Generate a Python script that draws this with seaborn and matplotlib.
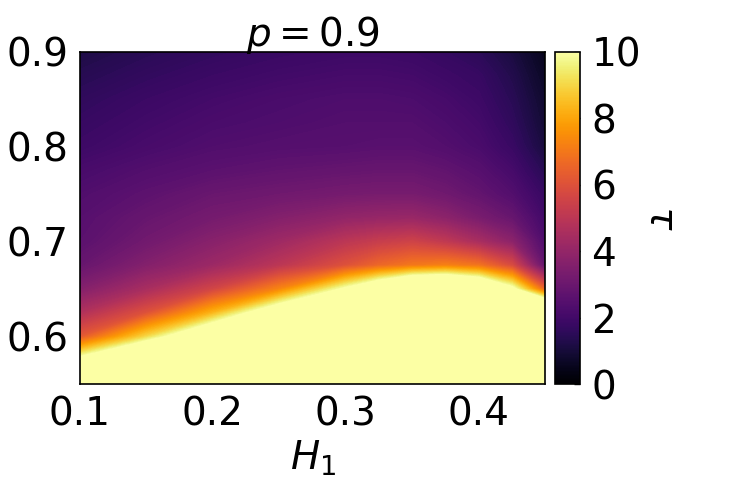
import numpy as np
import matplotlib
import seaborn as sns

matplotlib.use("Agg")
from matplotlib import pyplot as plt
from matplotlib import colors as mcolors
from matplotlib import cm

# grid of H1 (columns) and y (rows), tau
h1_values = [0.10, 0.15, 0.20, 0.25, 0.30, 0.325, 0.35, 0.375, 0.40, 0.425, 0.45]
y_values = [0.55, 0.575, 0.60, 0.625, 0.65, 0.675, 0.70, 0.725,
            0.75, 0.775, 0.80, 0.825, 0.85, 0.875, 0.90]

row_055 = [14.0, 17.0, 18.0, 18.0, 18.0, 18.5, 19.0, 19.0, 19.0, 19.0, 19.0]
row_0575 = [10.6, 14.0, 15.0, 16.0, 17.0, 17.5, 18.0, 18.0, 18.0, 18.0, 18.0]
row_060 = [6.2, 9.0, 12.2, 14.0, 15.0, 16.0, 17.0, 17.0, 17.0, 16.0, 17.0]
row_0625 = [4.7, 6.0, 8.3, 11.5, 13.0, 14.5, 16.0, 16.0, 15.0, 13.0, 15.0]
row_065 = [3.6, 4.5, 5.6, 7.3, 10.2, 11.9, 13.8, 14.2, 12.9, 10.4, 6.5]
row_0675 = [2.9, 3.6, 4.2, 5.0, 6.0, 6.6, 7.0, 7.2, 6.9, 5.8, 2.8]
row_070 = [2.6, 3.15, 3.7, 4.25, 5.0, 5.3, 5.5, 5.1, 4.5, 3.8, 2.3]
row_0725 = [2.5, 2.9, 3.25, 3.6, 3.95, 4.05, 4.1, 3.8, 3.35, 2.9, 2.0]
row_075 = [2.35, 2.65, 2.95, 3.1, 3.25, 3.3, 3.3, 3.1, 2.8, 2.4, 1.75]
row_0775 = [2.15, 2.4, 2.6, 2.75, 2.85, 2.9, 2.9, 2.75, 2.5, 2.1, 1.4]
row_080 = [1.9, 2.15, 2.35, 2.45, 2.5, 2.55, 2.55, 2.4, 2.2, 1.8, 1.05]
row_0825 = [1.75, 2.0, 2.2, 2.3, 2.4, 2.4, 2.4, 2.25, 2.05, 1.6, 0.9]
row_085 = [1.6, 1.85, 2.05, 2.2, 2.3, 2.3, 2.25, 2.1, 1.9, 1.45, 0.8]
row_0875 = [1.4, 1.65, 1.85, 2.0, 2.1, 2.1, 2.05, 1.9, 1.75, 1.3, 0.65]
row_090 = [1.2, 1.45, 1.65, 1.8, 1.9, 1.9, 1.85, 1.7, 1.5, 1.1, 0.5]

tau_rows = [row_055, row_0575, row_060, row_0625, row_065, row_0675, row_070,
            row_0725, row_075, row_0775, row_080, row_0825, row_085, row_0875, row_090]

x_ticks = [0.1, 0.2, 0.3, 0.4]
y_ticks = [0.6, 0.7, 0.8, 0.9]
cbar_ticks = [0, 2, 4, 6, 8, 10]

sns.set_theme(style="white")
plt.rcParams["font.family"] = ["DejaVu Sans"]
plt.rcParams["mathtext.fontset"] = "dejavusans"
for key in ["text.color", "axes.labelcolor", "xtick.color", "ytick.color"]:
    plt.rcParams[key] = "black"

cmap = sns.color_palette("inferno", as_cmap=True)
norm = mcolors.Normalize(vmin=0, vmax=10)

fig = plt.figure(figsize=(7.47, 4.93), dpi=100)
ax = fig.add_axes([0.107, 0.221, 0.623, 0.674])
cax = fig.add_axes([0.743, 0.221, 0.034, 0.674])

tau = np.array(tau_rows)
ax.contourf(h1_values, y_values, tau, levels=np.linspace(0, 10, 201),
            cmap=cmap, norm=norm, extend="max")

ax.set_xlim(0.1, 0.45)
ax.set_ylim(0.55, 0.9)
ax.set_xticks(x_ticks)
ax.set_yticks(y_ticks)
ax.tick_params(length=0, labelsize=28, pad=8)
ax.set_xlabel("$H_1$", fontsize=28, labelpad=4)
ax.set_title("$p = 0.9$", fontsize=28, pad=4)
for spine in ax.spines.values():
    spine.set_color("black")
    spine.set_linewidth(1.2)

cb = fig.colorbar(cm.ScalarMappable(norm=norm, cmap=cmap), cax=cax)
cb.set_ticks(cbar_ticks)
cb.ax.tick_params(labelsize=28, direction="in", length=4, width=1, pad=8)
cb.outline.set_edgecolor("black")
cb.outline.set_linewidth(1.2)
cb.set_label(r"$\tau$", fontsize=28, rotation=270, labelpad=28)

fig.savefig("out.png", dpi=100)
plt.close(fig)
